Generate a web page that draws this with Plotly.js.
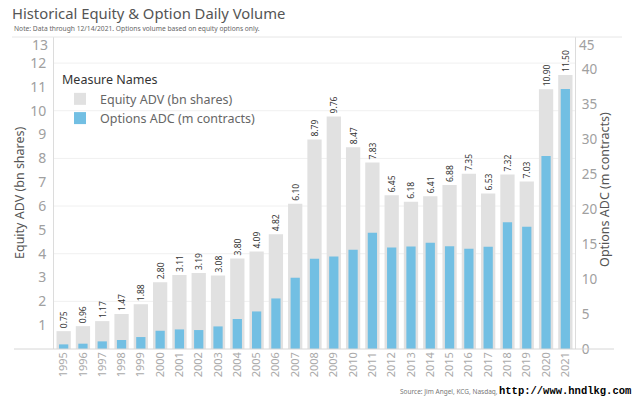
<!DOCTYPE html>
<html>
<head>
<meta charset="utf-8">
<script src="https://cdn.plot.ly/plotly-3.0.1.min.js"></script>
<style>html,body{margin:0;padding:0;background:#fff;}#chart{width:634px;height:398px;}</style>
</head>
<body>
<div id="chart"></div>
<script>
// ---- data ----
const years = ["1995","1996","1997","1998","1999","2000","2001","2002","2003","2004","2005","2006","2007","2008","2009","2010","2011","2012","2013","2014","2015","2016","2017","2018","2019","2020","2021"];
const equityADV = [0.75,0.96,1.17,1.47,1.88,2.80,3.11,3.19,3.08,3.80,4.09,4.82,6.10,8.79,9.76,8.47,7.83,6.45,6.18,6.41,6.88,7.35,6.53,7.32,7.03,10.90,11.50];
const optionsADC = [0.66,0.76,1.09,1.29,1.71,2.61,2.80,2.71,3.23,4.29,5.37,7.23,10.19,12.90,13.23,14.19,16.61,14.51,14.66,15.19,14.71,14.33,14.61,18.14,17.47,27.61,37.19];
const leftTicks = [1,2,3,4,5,6,7,8,9,10,11,12];
const rightTicks = [0,5,10,15,20,25,30,35,40];
const gridVals = [2,4,6,8,10,12];

// ---- layout geometry (pixels) ----
const W = 634, H = 398;
const L = 54, R = 575, T = 37, B = 349.3;
const px = x => (x - L) / (R - L);
const py = y => (B - y) / (B - T);
const FONT = "Noto Sans, Open Sans, sans-serif";

const traces = [
  {
    type: 'bar', name: 'Equity ADV (bn shares)', x: years, y: equityADV,
    yaxis: 'y', width: 0.74, marker: {color: '#e1e1e1'},
    text: equityADV.map(v => v.toFixed(2)), textposition: 'outside', textangle: -90,
    textfont: {size: 8.5, color: '#333', family: FONT}, constraintext: 'none', cliponaxis: false,
    hoverinfo: 'x+y'
  },
  {
    type: 'bar', name: 'Options ADC (m contracts)', x: years, y: optionsADC,
    yaxis: 'y2', width: 0.48, marker: {color: '#72bfe3'}, hoverinfo: 'x+y'
  }
];

const shapes = gridVals.map(v => ({
  type: 'line', xref: 'paper', yref: 'y', x0: 0, x1: 1, y0: v, y1: v,
  line: {color: '#f0f0f0', width: 1}, layer: 'below'
}));
shapes.push({type: 'line', xref: 'paper', yref: 'paper', x0: px(12), x1: px(622), y0: 1, y1: 1, line: {color: '#e6e6e6', width: 1}});
shapes.push({type: 'line', xref: 'paper', yref: 'paper', x0: px(14), x1: px(614), y0: 0, y1: 0, line: {color: '#d6d6d6', width: 1}});

const layout = {
  width: W, height: H,
  margin: {l: L, r: W - R, t: T, b: H - B, pad: 0},
  paper_bgcolor: '#fff', plot_bgcolor: '#fff',
  font: {family: FONT},
  barmode: 'overlay',
  showlegend: true,
  legend: {
    x: px(60), y: py(68), xanchor: 'left', yanchor: 'top',
    bgcolor: 'rgba(0,0,0,0)', font: {size: 12.5, color: '#666', family: FONT},
    title: {text: 'Measure Names', font: {size: 12.5, color: '#333', family: FONT}},
    itemwidth: 30, tracegroupgap: 0, traceorder: 'normal'
  },
  title: {
    text: 'Historical Equity & Option Daily Volume',
    x: 12 / W, xanchor: 'left', xref: 'container', y: 1 - 14 / H, yanchor: 'middle', yref: 'container',
    font: {size: 14.8, color: '#555', family: FONT}
  },
  xaxis: {
    type: 'category', tickangle: -90, tickfont: {size: 11, color: '#aaa', family: FONT},
    showgrid: false, zeroline: false, showline: false, ticks: '', ticklen: 0
  },
  yaxis: {
    range: [0, (B - T) / 23.85], tickvals: leftTicks, ticktext: leftTicks.map(String),
    tickfont: {size: 14, color: '#a0a0a0', family: FONT},
    showgrid: false, zeroline: false, showline: true, linecolor: '#dcdcdc', linewidth: 1,
    ticks: '', ticklabelstandoff: 4
  },
  yaxis2: {
    overlaying: 'y', side: 'right', range: [0, (B - T) / 7.0],
    tickvals: rightTicks, ticktext: rightTicks.map(String),
    tickfont: {size: 13.5, color: '#a0a0a0', family: FONT},
    showgrid: false, zeroline: false, showline: true, linecolor: '#dcdcdc', linewidth: 1,
    ticks: '', ticklabelstandoff: 3
  },
  shapes: shapes,
  annotations: [
    {text: 'Note: Data through 12/14/2021. Options volume based on equity options only.',
     xref: 'paper', yref: 'paper', x: px(12), y: py(28), xanchor: 'left', yanchor: 'middle',
     showarrow: false, font: {size: 6.7, color: '#666', family: FONT}},
    {text: 'Equity ADV (bn shares)', xref: 'paper', yref: 'paper', x: px(19), y: 0.5,
     xanchor: 'center', yanchor: 'middle', textangle: -90, showarrow: false,
     font: {size: 12.5, color: '#555', family: FONT}},
    {text: 'Options ADC (m contracts)', xref: 'paper', yref: 'paper', x: px(605), y: 0.51,
     xanchor: 'center', yanchor: 'middle', textangle: -90, showarrow: false,
     font: {size: 12.5, color: '#555', family: FONT}},
    {text: '13', xref: 'paper', yref: 'paper', x: px(50), y: py(45), xanchor: 'right', yanchor: 'middle',
     showarrow: false, font: {size: 14, color: '#a0a0a0', family: FONT}},
    {text: '45', xref: 'paper', yref: 'paper', x: px(577), y: py(45), xanchor: 'left', yanchor: 'middle',
     showarrow: false, font: {size: 13.5, color: '#a0a0a0', family: FONT}},
    {text: 'Source: Jim Angel, KCG, Nasdaq,', xref: 'paper', yref: 'paper', x: px(398), y: py(392),
     xanchor: 'left', yanchor: 'middle', showarrow: false, font: {size: 6.5, color: '#777', family: FONT}},
    {text: '<b>http://www.hndlkg.com</b>', xref: 'paper', yref: 'paper', x: px(498), y: py(391),
     xanchor: 'left', yanchor: 'middle', showarrow: false, bgcolor: '#fff', borderpad: 0,
     font: {size: 10.5, color: '#000', family: 'Liberation Mono, DejaVu Sans Mono, monospace'}}
  ]
};

Plotly.newPlot('chart', traces, layout, {displayModeBar: false, staticPlot: true});
</script>
</body>
</html>
